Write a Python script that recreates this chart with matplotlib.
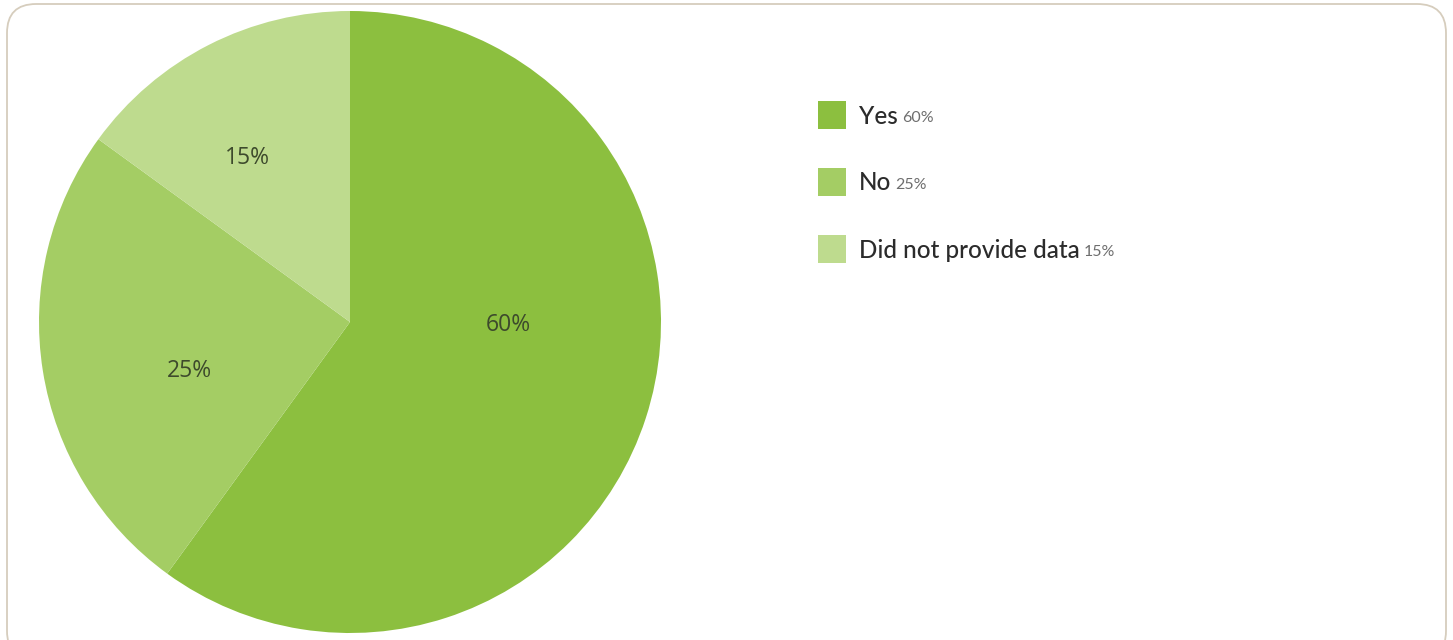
import matplotlib
matplotlib.use('agg')
import matplotlib.pyplot as plt
import numpy as np
from matplotlib.patches import FancyBboxPatch, Rectangle

labels = ['Yes', 'No', 'Did not provide data']
values = [60, 25, 15]
colors = ['#8cbf3f', '#a4cd64', '#bedb8e']

W, H = 1453, 640
fig = plt.figure(figsize=(W / 100, H / 100), dpi=100)

# rounded frame around the whole card
frame = FancyBboxPatch((7 / W, -20 / H), (1446 - 7) / W, (636 + 20) / H,
                       boxstyle='round,pad=0,rounding_size=0.02',
                       transform=fig.transFigure, facecolor='none',
                       edgecolor='#d6cdbd', linewidth=1.3,
                       mutation_aspect=W / H, zorder=5)
fig.patches.append(frame)

# pie: center (350, 322), radius 311 px
ax = fig.add_axes([39 / W, 7 / H, 622 / W, 622 / H])
wedges, texts, autotexts = ax.pie(values, colors=colors, startangle=90,
                                  counterclock=False, autopct='%d%%',
                                  pctdistance=0.55,
                                  wedgeprops=dict(linewidth=0),
                                  textprops=dict(fontsize=16.5, color='#3d4a2c',
                                                 family='Open Sans'))
ax.set_aspect('equal')
ax.set_xlim(-1, 1)
ax.set_ylim(-1, 1)
ax.axis('off')

# label placement as in the original (radius fraction, angle in degrees)
label_pos = [(0.51, -1), (0.54, 197), (0.62, 122)]
for t, (r, a) in zip(autotexts, label_pos):
    t.set_position((r * np.cos(np.radians(a)), r * np.sin(np.radians(a))))

# legend drawn by hand
rows_y = [115, 182, 249]
for lab, val, col, y in zip(labels, values, colors, rows_y):
    fig.patches.append(Rectangle((818 / W, 1 - (y + 14) / H), 28 / W, 28 / H,
                                 transform=fig.transFigure, facecolor=col,
                                 edgecolor='none'))
    t = fig.text(859 / W, 1 - (y + 1) / H, lab, fontsize=17.5, color='#2b2b2b',
                 family='Lato', weight='medium', va='center', ha='left')
    fig.canvas.draw()
    bb = t.get_window_extent()
    fig.text((bb.x1 + 4) / W, 1 - (y + 3) / H, '%d%%' % val, fontsize=11.5,
             color='#6e6e6e', family='Lato', va='center', ha='left')

fig.savefig('out.png', dpi=100)
